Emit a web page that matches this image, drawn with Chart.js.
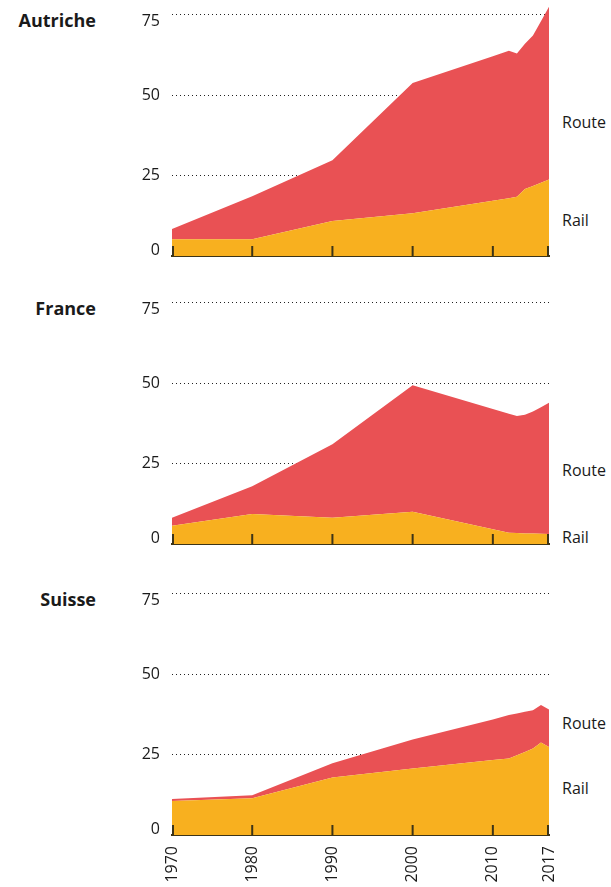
<!DOCTYPE html>
<html>
<head>
<meta charset="utf-8">
<script src="https://cdn.jsdelivr.net/npm/chart.js@4/dist/chart.umd.min.js"></script>
<style>
  body { margin: 0; background: #fff; width: 611px; height: 887px; position: relative; overflow: hidden; font-family: "Open Sans", sans-serif; color: #1a1a1a; }
  .panel { position: absolute; left: 0; width: 611px; }
  .title { position: absolute; right: 515px; font-weight: bold; font-size: 18px; line-height: 22px; }
  .lab { position: absolute; left: 562px; font-size: 16px; line-height: 20px; }
</style>
</head>
<body>
<div class="title" style="top:9px">Autriche</div>
<div class="title" style="top:297px">France</div>
<div class="title" style="top:588px">Suisse</div>
<div class="lab" style="top:112px">Route</div>
<div class="lab" style="top:210px">Rail</div>
<div class="lab" style="top:460px">Route</div>
<div class="lab" style="top:527px">Rail</div>
<div class="lab" style="top:713px">Route</div>
<div class="lab" style="top:778px">Rail</div>

<div class="panel" style="top:0px;height:266px"><canvas id="c1"></canvas></div>
<div class="panel" style="top:280px;height:274px"><canvas id="c2"></canvas></div>
<div class="panel" style="top:570px;height:317px"><canvas id="c3"></canvas></div>

<script>
const years = [1970, 1980, 1990, 2000, 2010, 2012, 2013, 2014, 2015, 2016, 2017];
const xTicks = [1970, 1980, 1990, 2000, 2010, 2017];
const yTicks = [0, 25, 50, 75];

const railAutriche  = [5.2, 5.2, 10.9, 13.3, 17.2, 18.0, 18.4, 20.8, 21.8, 22.8, 23.8];
const routeAutriche = [3.2, 13.4, 18.9, 40.5, 44.9, 45.8, 44.6, 45.2, 46.8, 50.2, 53.7];

const railFrance  = [5.7, 9.3, 8.2, 10.0, 4.6, 3.5, 3.4, 3.3, 3.3, 3.2, 3.1];
const routeFrance = [2.5, 8.7, 22.8, 39.4, 37.4, 37.0, 36.4, 36.9, 37.9, 39.3, 40.8];

const railSuisse  = [10.6, 11.4, 17.9, 20.7, 23.3, 23.8, 24.8, 25.8, 26.9, 28.8, 27.4];
const routeSuisse = [0.6, 1.0, 4.4, 9.0, 12.6, 13.5, 13.0, 12.5, 11.9, 11.6, 11.6];

const RED = '#E95154';
const YELLOW = '#F8B01F';
const AXIS = '#3d3417';
const TEXT = '#1a1a1a';
const font = { family: '"Open Sans", sans-serif', size: 16 };

// tick marks pointing up from the x axis, and y labels (top one pushed down, bottom one up)
const extras = {
    id: 'extras',
    afterDraw(chart) {
        const ctx = chart.ctx;
        const xs = chart.scales.x;
        const ys = chart.scales.y;
        const bottom = chart.chartArea.bottom;
        ctx.save();
        ctx.strokeStyle = AXIS;
        ctx.lineWidth = 2;
        xTicks.forEach(v => {
            let px = xs.getPixelForValue(v);
            if (v === xTicks[0]) px += 1;
            if (v === xTicks[xTicks.length - 1]) px -= 1;
            ctx.beginPath();
            ctx.moveTo(px, bottom);
            ctx.lineTo(px, bottom - 10);
            ctx.stroke();
        });
        ctx.fillStyle = TEXT;
        ctx.font = '16px "Open Sans", sans-serif';
        ctx.textAlign = 'right';
        ctx.textBaseline = 'middle';
        yTicks.forEach((v, i) => {
            let py = ys.getPixelForValue(v);
            if (i === 0) py -= 6;
            if (i === yTicks.length - 1) py += 7;
            ctx.fillText(String(v), chart.chartArea.left - 12, py);
        });
        ctx.restore();
    }
};

function makeChart(id, rail, route, padTop, xHeight, showYears) {
    const pts = arr => arr.map((v, i) => ({ x: years[i], y: v }));
    return new Chart(document.getElementById(id), {
        type: 'line',
        data: {
            datasets: [
                { label: 'Rail', data: pts(rail), fill: 'origin', backgroundColor: YELLOW, borderWidth: 0, pointRadius: 0, tension: 0 },
                { label: 'Route', data: pts(route), fill: '-1', backgroundColor: RED, borderWidth: 0, pointRadius: 0, tension: 0 }
            ]
        },
        options: {
            responsive: true,
            maintainAspectRatio: false,
            animation: false,
            layout: { padding: { top: padTop, right: 62, left: 0, bottom: 0 } },
            plugins: { legend: { display: false }, tooltip: { enabled: false } },
            scales: {
                x: {
                    type: 'linear', min: 1970, max: 2017, z: 1,
                    afterBuildTicks: s => { s.ticks = xTicks.map(v => ({ value: v })); },
                    afterFit: s => {
                        s.height = xHeight;
                        s.paddingLeft = 0; s.paddingRight = 0; s.paddingTop = 0; s.paddingBottom = 0;
                    },
                    grid: { drawOnChartArea: false, drawTicks: false },
                    border: { color: AXIS, width: 2 },
                    ticks: {
                        display: showYears, minRotation: 90, maxRotation: 90, padding: 11,
                        font: font, color: TEXT, callback: v => String(v)
                    }
                },
                y: {
                    stacked: true, min: 0, max: 79, z: 1,
                    afterBuildTicks: s => { s.ticks = yTicks.map(v => ({ value: v })); },
                    afterFit: s => {
                        s.width = 172;
                        s.paddingLeft = 0; s.paddingRight = 0; s.paddingTop = 0; s.paddingBottom = 0;
                    },
                    grid: {
                        drawTicks: false, lineWidth: 1,
                        color: c => (c.tick && c.tick.value === 0) ? 'rgba(0,0,0,0)' : '#222'
                    },
                    border: { display: false, dash: [1, 3] },
                    ticks: { display: false }
                }
            }
        },
        plugins: [extras]
    });
}

makeChart('c1', railAutriche, routeAutriche, 2, 10, false);
makeChart('c2', railFrance, routeFrance, 10, 10, false);
makeChart('c3', railSuisse, routeSuisse, 11, 52, true);
</script>
</body>
</html>
